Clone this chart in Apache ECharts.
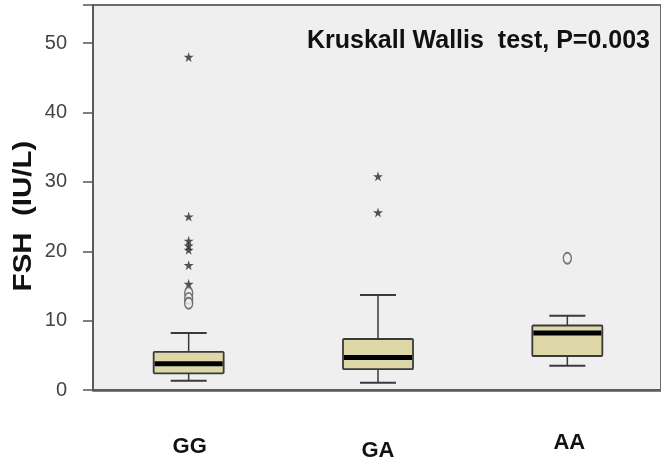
<!DOCTYPE html>
<html>
<head>
<meta charset="utf-8">
<script src="https://cdn.jsdelivr.net/npm/echarts@6/dist/echarts.min.js"></script>
<style>
html,body{margin:0;padding:0;background:#fff;}
#chart{width:661px;height:468px;}
</style>
</head>
<body>
<div id="chart"></div>
<script>
// ---- data ----
const categories = ['GG', 'GA', 'AA'];
// [lower whisker, Q1, median, Q3, upper whisker]
const boxGG = [1.35, 2.4, 3.8, 5.5, 8.2];
const boxGA = [1.05, 3.0, 4.7, 7.35, 13.7];
const boxAA = [3.5, 4.9, 8.2, 9.3, 10.7];
// extreme values (stars)
const starsGG = [48, 25, 21.5, 20.8, 20.2, 18.0, 15.3];
const starsGA = [30.8, 25.6];
// outliers (circles)
const circlesGG = [14.0, 13.2, 12.5];
const circlesAA = [19.0];
const yTicks = [0, 10, 20, 30, 40, 50];
const titleText = 'Kruskall Wallis  test, P=0.003';
const yName = 'FSH  (IU/L)';

const boxes = [boxGG, boxGA, boxAA];
const boxData = boxes.map((b, i) => [i].concat(b));
const starData = [];
starsGG.forEach(v => starData.push([0, v]));
starsGA.forEach(v => starData.push([1, v]));
const circleData = [];
circlesGG.forEach(v => circleData.push([0, v]));
circlesAA.forEach(v => circleData.push([2, v]));

const chart = echarts.init(document.getElementById('chart'));
const starPath = 'path://M50,0 L61,35 L98,35 L68,57 L79,91 L50,70 L21,91 L32,57 L2,35 L39,35 Z';

function renderBox(params, api) {
  const i = api.value(0);
  const lo = api.coord([i, api.value(1)]);
  const q1 = api.coord([i, api.value(2)]);
  const med = api.coord([i, api.value(3)]);
  const q3 = api.coord([i, api.value(4)]);
  const hi = api.coord([i, api.value(5)]);
  const cx = lo[0] + 1;
  const hw = 35, cw = 18;
  const lineStyle = {stroke: '#3a3a3a', lineWidth: 1.5};
  return {
    type: 'group',
    children: [
      {type: 'line', shape: {x1: cx, y1: hi[1], x2: cx, y2: q3[1]}, style: lineStyle},
      {type: 'line', shape: {x1: cx, y1: q1[1], x2: cx, y2: lo[1]}, style: lineStyle},
      {type: 'line', shape: {x1: cx - cw, y1: hi[1], x2: cx + cw, y2: hi[1]}, style: {stroke: '#3a3a3a', lineWidth: 2}},
      {type: 'line', shape: {x1: cx - cw, y1: lo[1], x2: cx + cw, y2: lo[1]}, style: {stroke: '#3a3a3a', lineWidth: 2}},
      {type: 'rect', shape: {x: cx - hw, y: q3[1], width: 2 * hw, height: q1[1] - q3[1], r: 1},
        style: {fill: '#ded8a8', stroke: '#3a3a3a', lineWidth: 1.8}},
      {type: 'line', shape: {x1: cx - hw + 1, y1: med[1], x2: cx + hw - 1, y2: med[1]}, style: {stroke: '#000', lineWidth: 5}}
    ]
  };
}

const option = {
  backgroundColor: '#ffffff',
  animation: false,
  title: {
    text: titleText,
    left: 307,
    top: 29,
    padding: 0,
    textStyle: {fontFamily: 'Liberation Sans', fontWeight: 'bold', fontSize: 25, color: '#111'}
  },
  grid: {
    left: 93, top: 5, width: 573, height: 385,
    show: true, backgroundColor: '#efefef', borderColor: '#6a6a6a', borderWidth: 2
  },
  xAxis: {
    type: 'category',
    data: categories,
    axisLine: {lineStyle: {color: '#5a5a5a', width: 2.5}},
    axisTick: {alignWithLabel: true, length: 10, lineStyle: {color: '#555', width: 1.5}},
    axisLabel: {
      margin: 42,
      formatter: v => '{' + v + '|' + v + '}',
      rich: {
        GG: {fontFamily: 'Liberation Sans', fontWeight: 'bold', fontSize: 22, color: '#111', padding: [4, 0, 0, 4]},
        GA: {fontFamily: 'Liberation Sans', fontWeight: 'bold', fontSize: 22, color: '#111', padding: [8, 0, 0, 2]},
        AA: {fontFamily: 'Liberation Sans', fontWeight: 'bold', fontSize: 22, color: '#111', padding: [0, 0, 0, 6]}
      }
    },
    splitLine: {show: false}
  },
  yAxis: {
    type: 'value',
    min: 0, max: 55.5,
    interval: 10,
    axisLine: {show: true, lineStyle: {color: '#5a5a5a', width: 2}},
    axisTick: {show: true, length: 10, lineStyle: {color: '#555', width: 1.5}},
    axisLabel: {
      margin: 26, fontFamily: 'Liberation Sans', fontSize: 20, color: '#444',
      formatter: v => (yTicks.indexOf(v) >= 0 ? String(v) : '')
    },
    splitLine: {show: false}
  },
  graphic: [{
    type: 'text',
    x: 24, y: 216,
    rotation: Math.PI / 2,
    scaleX: 1.18,
    style: {
      text: yName, textAlign: 'center', textVerticalAlign: 'middle',
      font: 'bold 25px "Liberation Sans"', fill: '#111'
    }
  }],
  series: [
    {type: 'custom', renderItem: renderBox, data: boxData, encode: {x: 0, y: [1, 2, 3, 4, 5]}, z: 3},
    {type: 'scatter', data: starData.map(d => [d[0], d[1]]), symbol: starPath, symbolSize: 10, symbolOffset: [1, 0],
      itemStyle: {color: '#2b2b2b'}, z: 4},
    {type: 'scatter', data: circleData, symbol: 'circle', symbolSize: [8, 11], symbolOffset: [1, 0],
      itemStyle: {color: '#efefef', borderColor: '#555', borderWidth: 1.6}, z: 4}
  ]
};
chart.setOption(option);
</script>
</body>
</html>
